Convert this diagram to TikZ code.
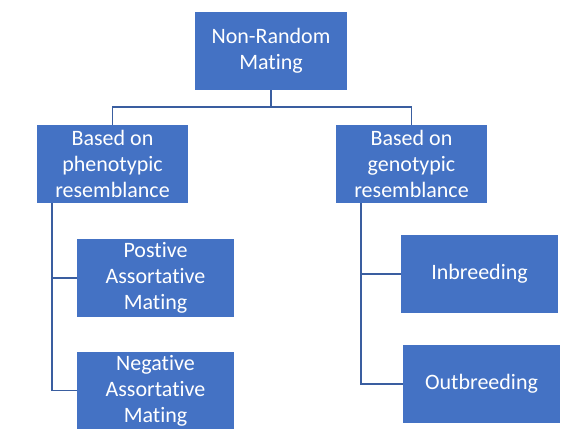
\documentclass[tikz,border=0pt]{standalone}
\usepackage{fontspec}
\setmainfont[Ligatures={NoCommon}]{Carlito}
\usetikzlibrary{positioning}

\definecolor{boxblue}{RGB}{68,114,196}
\definecolor{lineblue}{RGB}{58,94,160}

\tikzset{
  matebox/.style={fill=boxblue, text=white, align=center, inner sep=0pt,
    minimum width=152pt, minimum height=78pt,
    font=\fontsize{22}{26}\selectfont},
  link/.style={draw=lineblue, line width=1.6pt}
}

\begin{document}
\begin{tikzpicture}[x=1pt, y=-1pt]

\useasboundingbox (0,0) rectangle (577,441);

\node[matebox] (nonrandom) at (271, 51) {Non-Random\\Mating};
\node[matebox, minimum width=151pt] (pheno) at (112.5, 164) {Based on\\phenotypic\\resemblance};
\node[matebox, minimum width=151pt] (geno) at (411.5, 164) {Based on\\genotypic\\resemblance};

\node[matebox, minimum width=157pt] (positive) at (155.5, 278) {Postive\\Assortative\\Mating};
\node[matebox, minimum width=157pt, minimum height=77pt] (negative) at (155.5, 390.5) {Negative\\Assortative\\Mating};
\node[matebox, minimum width=157pt] (inbreed) at (479.5, 274) {Inbreeding};
\node[matebox, minimum width=157pt] (outbreed) at (481.5, 384) {Outbreeding};

% Draw top level links
\draw[link] (nonrandom.south) -- ++(0,17) -| (pheno.north);
\draw[link] (nonrandom.south) -- ++(0,17) -| (geno.north);

% Draw side links
\draw[link] ([xshift=15pt]pheno.south west) |- (positive.west);
\draw[link] ([xshift=15pt]pheno.south west) |- (negative.west);
\draw[link] ([xshift=25pt]geno.south west) |- (inbreed.west);
\draw[link] ([xshift=25pt]geno.south west) |- (outbreed.west);

\end{tikzpicture}
\end{document}
